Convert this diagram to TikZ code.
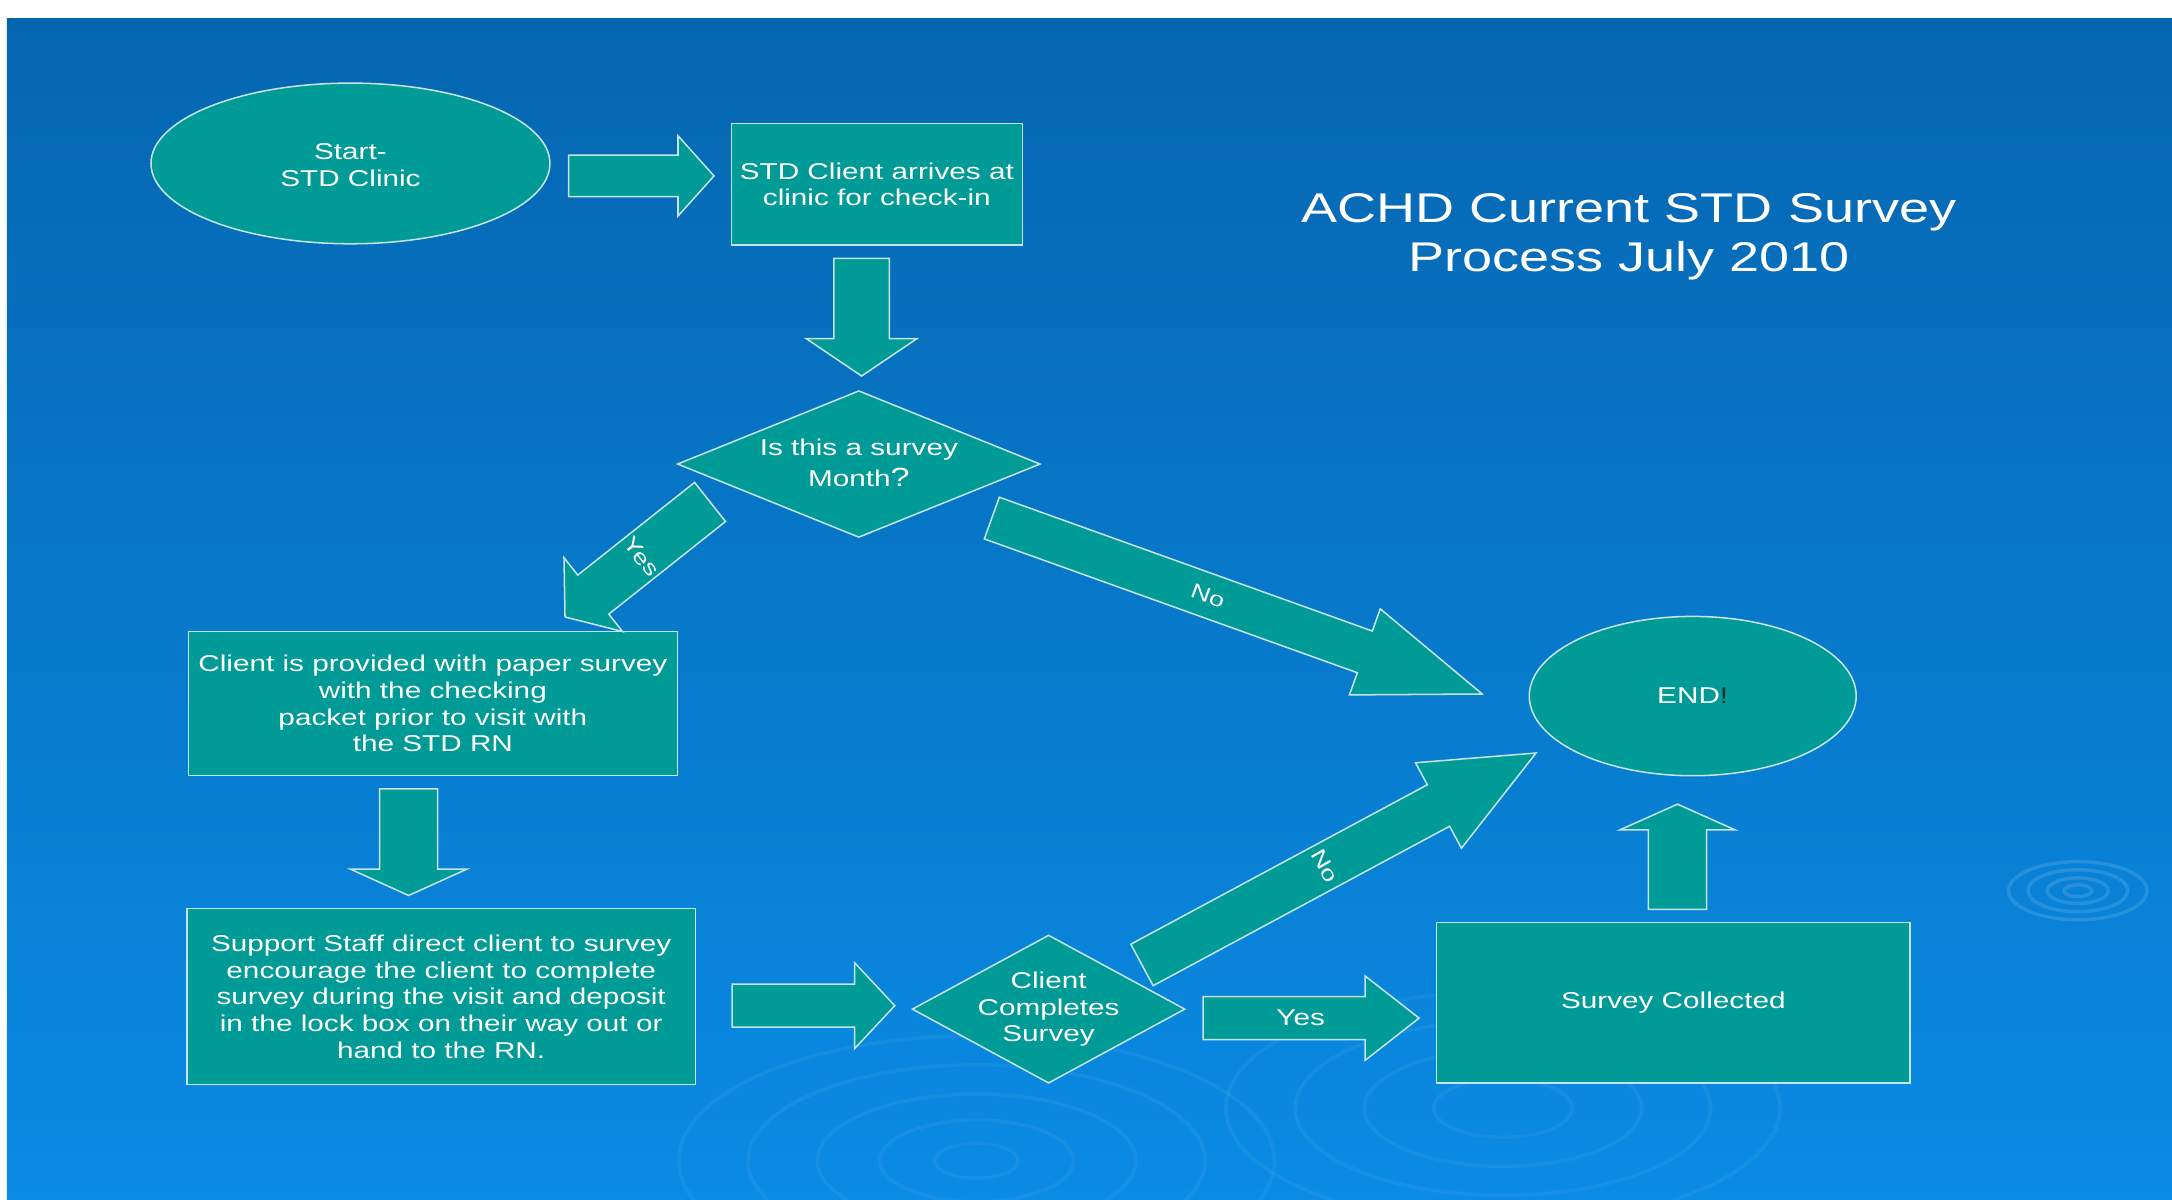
\documentclass[tikz,border=0pt]{standalone}
\usepackage{fontspec}
\setmainfont[FakeStretch=1.3]{Liberation Sans}
\usetikzlibrary{shapes.geometric,calc}

\definecolor{bgtop}{HTML}{0566B0}
\definecolor{bgmid}{HTML}{0569B4}
\definecolor{bgbot}{HTML}{0A8BE4}
\definecolor{tealfill}{HTML}{009A97}
\definecolor{edgeline}{HTML}{C4E4E6}
\definecolor{endmark}{HTML}{1E2B2B}

\newcommand\fs[2]{\fontsize{#1}{#2}\selectfont}

\tikzset{
  shapebase/.style={fill=tealfill, draw=edgeline, line width=1.1pt, inner sep=0pt},
  box/.style={shapebase, rectangle},
  oval/.style={shapebase, ellipse},
  decision/.style={shapebase, diamond},
  txt/.style={text=white, align=center, font=\fs{16.5}{19.2}},
  barrow/.style={fill=tealfill, draw=edgeline, line width=1.1pt, line join=miter},
  ripple/.style={draw=white, line width=2.5pt, opacity=0.05},
}

% block arrow: start, tip, half shaft width, half head width, head length
\newcommand\blockarrow[5]{%
  \coordinate (ba-h) at ($(#2)!#5!(#1)$);
  \filldraw[barrow]
    ($(#1)!#3!90:(#2)$) -- ($(ba-h)!#3!-90:(#1)$) -- ($(ba-h)!#4!-90:(#1)$)
    -- (#2) -- ($(ba-h)!#4!90:(#1)$) -- ($(ba-h)!#3!90:(#1)$)
    -- ($(#1)!#3!-90:(#2)$) -- cycle;
}

\begin{document}
\begin{tikzpicture}[x=1pt,y=-1pt]
  \useasboundingbox (0,0) rectangle (1568,866);
  \fill[white] (0,0) rectangle (1568,866);
  \shade[top color=bgtop, middle color=bgmid, bottom color=bgbot] (5,13) rectangle (1568,866);

  % water ripples
  \begin{scope}
    \clip (5,13) rectangle (1568,866);
    \foreach \r in {10,22,36,50} \draw[ripple, opacity=0.12] (1500,643) ellipse ({\r} and {\r*0.42});
    \foreach \r in {30,70,115,165,215} \draw[ripple] (705,838) ellipse ({\r} and {\r*0.42});
    \foreach \r in {50,100,150,200} \draw[ripple] (1085,800) ellipse ({\r} and {\r*0.42});
  \end{scope}

  % flowchart shapes
  \node[oval, minimum width=288pt, minimum height=116pt] (start) at (253,118) {};
  \node[txt] at ($(start)+(0,1)$) {Start-\\STD Clinic};

  \node[box, minimum width=210pt, minimum height=88pt] (arrive) at (633,133) {};
  \node[txt] at (arrive) {STD Client arrives at\\clinic for check-in};

  \node[decision, minimum width=262pt, minimum height=106pt] (month) at (620,335) {};
  \node[txt, font=\fs{16.5}{22}] at ($(month)+(0,-1)$) {Is this a survey\\Month\fs{19}{22}?};

  \node[box, minimum width=353pt, minimum height=104pt] (paper) at (312.5,508) {};
  \node[txt] at (paper) {Client is provided with paper survey\\with the checking\\packet prior to visit with\\the STD RN};

  \node[box, minimum width=367pt, minimum height=127pt] (staff) at (318.5,719.5) {};
  \node[txt] at (staff) {Support Staff direct client to survey\\encourage the client to complete\\survey during the visit and deposit\\in the lock box on their way out or\\hand to the RN.};

  \node[decision, minimum width=197pt, minimum height=107pt] (completes) at (757,728.5) {};
  \node[txt] at (completes) {Client\\Completes\\Survey};

  \node[box, minimum width=342pt, minimum height=116pt] (collected) at (1208,724) {};
  \node[txt] at (collected) {Survey Collected};

  \node[oval, minimum width=236pt, minimum height=115pt] (end) at (1222,502.5) {};
  \node[txt] at (end) {END\textcolor{endmark}{!}};

  \node[txt, font=\fs{30}{35}] (title) at (1176,171) {ACHD Current STD Survey\\Process July 2010};

  % arrow end points
  \coordinate (a1s) at ($(start.east)+(13,9)$);
  \coordinate (a1t) at ($(arrive.west)+(-12,-6)$);
  \coordinate (a2s) at ($(arrive.south)+(-11,9)$);
  \coordinate (a2t) at ($(month.north)+(2,-10)$);
  \coordinate (yes1s) at (512.6,362.4);
  \coordinate (yes1t) at (407.9,445.4);
  \coordinate (a3s) at ($(paper.south)+(-17.5,9)$);
  \coordinate (a3t) at ($(staff.north)+(-23.5,-9)$);
  \coordinate (a4s) at ($(staff.east)+(26,6.5)$);
  \coordinate (a4t) at ($(completes.west)+(-12,-2.5)$);
  \coordinate (no1s) at (716,374);
  \coordinate (no1t) at (1070,501);
  \coordinate (no2s) at (824.4,696.6);
  \coordinate (no2t) at (1108.9,543.6);
  \coordinate (yes2s) at ($(completes.east)+(12.5,6.5)$);
  \coordinate (yes2t) at ($(collected.west)+(-12,11)$);
  \coordinate (a5s) at ($(collected.north)+(3,-9)$);
  \coordinate (a5t) at ($(end.south)+(-11,20)$);

  % block arrows
  \blockarrow{a1s}{a1t}{15pt}{29pt}{26pt}
  \blockarrow{a2s}{a2t}{20pt}{40pt}{27pt}
  \blockarrow{yes1s}{yes1t}{18pt}{34pt}{26pt}
  \blockarrow{a3s}{a3t}{21pt}{42pt}{19pt}
  \blockarrow{a4s}{a4t}{15.5pt}{31pt}{29pt}
  \blockarrow{no1s}{no1t}{16pt}{33pt}{90pt}
  \blockarrow{no2s}{no2t}{17pt}{35pt}{80pt}
  \blockarrow{yes2s}{yes2t}{15.5pt}{30.5pt}{39pt}
  \blockarrow{a5s}{a5t}{21pt}{41.5pt}{18.5pt}

  % branch labels
  \node[txt, font=\fs{15}{17}, rotate=-52] (lyes1) at (463,402) {Yes};
  \node[txt, font=\fs{15}{17}, rotate=-20] (lno1) at (872,430) {No};
  \node[txt, font=\fs{15}{17}, rotate=-60] (lno2) at (956.5,625) {No};
  \node[txt] (lyes2) at (939,735) {Yes};
\end{tikzpicture}
\end{document}
